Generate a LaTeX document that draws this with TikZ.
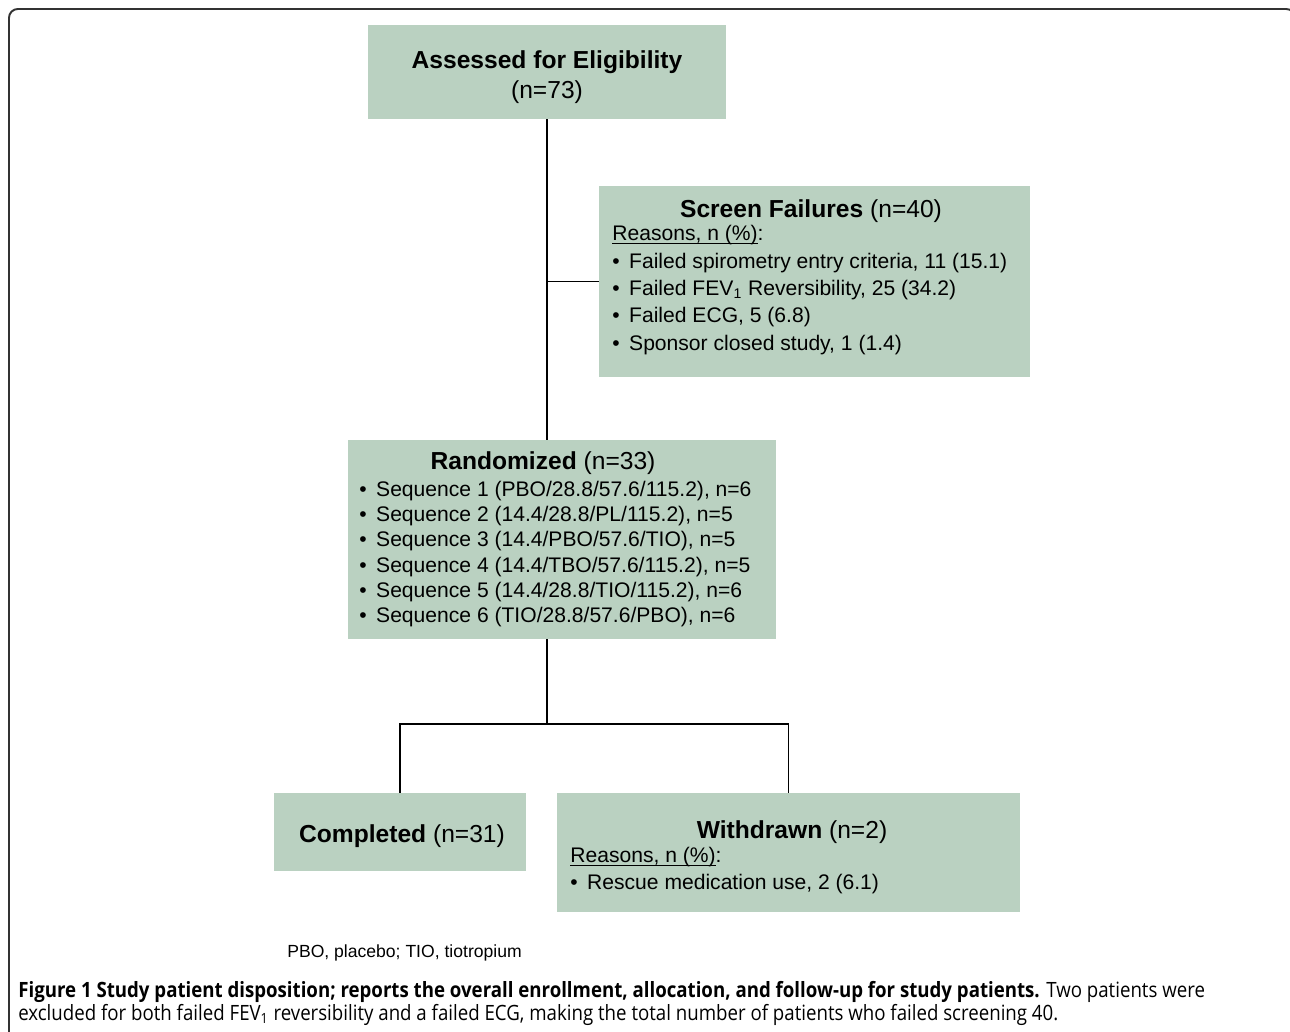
\documentclass[tikz,border=0pt]{standalone}
\usepackage{fontspec}
\setmainfont{Liberation Sans}
\newfontfamily\capfont[FakeStretch=0.885]{Open Sans}
\usepackage{xcolor}
\usepackage{tikz}
\usetikzlibrary{positioning,calc}
\definecolor{mSage}{HTML}{BAD1C1}
\definecolor{mFrame}{HTML}{333333}
\newcommand\itm{•\hspace{0.45em}}
\newcommand\undl[1]{\setbox0\hbox{#1}\rlap{\rule[-1.6pt]{\wd0}{0.5pt}}\box0}

\begin{document}
\begin{tikzpicture}[x=0.02cm, y=-0.02cm, font=\fontsize{12}{14.3}\selectfont,
  box/.style={fill=mSage, inner sep=0pt},
  headtext/.style={font=\fontsize{14}{17}\selectfont, inner sep=0pt, anchor=base},
  listtext/.style={align=left, inner sep=0pt, anchor=north west},
  captext/.style={font=\capfont\fontsize{12}{14}\selectfont, anchor=base west, inner sep=0pt},
  link/.style={line width=1.1pt, black}]
\useasboundingbox (0,0) rectangle (1290,1031);
% outer frame, cut by the page on the right and at the bottom
\draw[line width=1.1pt, mFrame, rounded corners=5pt] (9,1060) -- (9,9) -- (1295,9) -- (1295,1060);

% boxes
\node[box, minimum width=7.16cm, minimum height=1.88cm] (assess) at (547,72) {};
\node[box, minimum width=8.62cm, minimum height=3.82cm] (screen) at (814.5,281.5) {};
\node[box, minimum width=8.56cm, minimum height=3.98cm] (rand) at (562,539.5) {};
\node[box, minimum width=5.04cm, minimum height=1.56cm] (compl) at (400,832) {};
\node[box, minimum width=9.26cm, minimum height=2.38cm] (withd) at (788.5,852.5) {};

% texts in the boxes
\node[headtext] (assesshd) at (547,68) {\textbf{Assessed for Eligibility}};
\node[headtext] (assessn) at (547,98) {(n=73)};
\node[headtext] (screenhd) at (811,217) {\textbf{Screen Failures} (n=40)};
\node[listtext, font=\fontsize{12}{15.6}\selectfont] (screenls) at (612,225) {\undl{Reasons, n (\%)}:\\
  \itm Failed spirometry entry criteria, 11 (15.1)\\
  \itm Failed FEV\textsubscript{1} Reversibility, 25 (34.2)\\
  \itm Failed ECG, 5 (6.8)\\
  \itm Sponsor closed study, 1 (1.4)};
\node[headtext] (randhd) at (543,469) {\textbf{Randomized} (n=33)};
\node[listtext] (randls) at (359,481) {\itm Sequence 1 (PBO/28.8/57.6/115.2), n=6\\
  \itm Sequence 2 (14.4/28.8/PL/115.2), n=5\\
  \itm Sequence 3 (14.4/PBO/57.6/TIO), n=5\\
  \itm Sequence 4 (14.4/TBO/57.6/115.2), n=5\\
  \itm Sequence 5 (14.4/28.8/TIO/115.2), n=6\\
  \itm Sequence 6 (TIO/28.8/57.6/PBO), n=6};
\node[headtext] (complhd) at (402,842) {\textbf{Completed} (n=31)};
\node[headtext] (withdhd) at (792,838) {\textbf{Withdrawn} (n=2)};
\node[listtext, font=\fontsize{12}{15.3}\selectfont] (withdls) at (570,847) {\undl{Reasons, n (\%)}:\\
  \itm Rescue medication use, 2 (6.1)};

% connectors
\coordinate (split) at (547,724);
\draw[link] (assess.south) -- (assess.south |- rand.north);
\draw[link] (assess.south |- screen.west) -- (screen.west);
\draw[link] (split |- rand.south) -- (split);
\draw[link] (compl.north) -- (compl.north |- split) -- (withd.north |- split) -- (withd.north);

% footnote and caption
\node[font=\fontsize{10}{12}\selectfont, anchor=base west, inner sep=0pt] (abbrev) at (287,957) {PBO, placebo; TIO, tiotropium};
\node[captext] (cap1) at (18,997) {\textbf{Figure 1 Study patient disposition; reports the overall enrollment, allocation, and follow-up for study patients.} Two patients were};
\node[captext] (cap2) at (18,1020) {excluded for both failed FEV\textsubscript{1} reversibility and a failed ECG, making the total number of patients who failed screening 40.};
\end{tikzpicture}
\end{document}
